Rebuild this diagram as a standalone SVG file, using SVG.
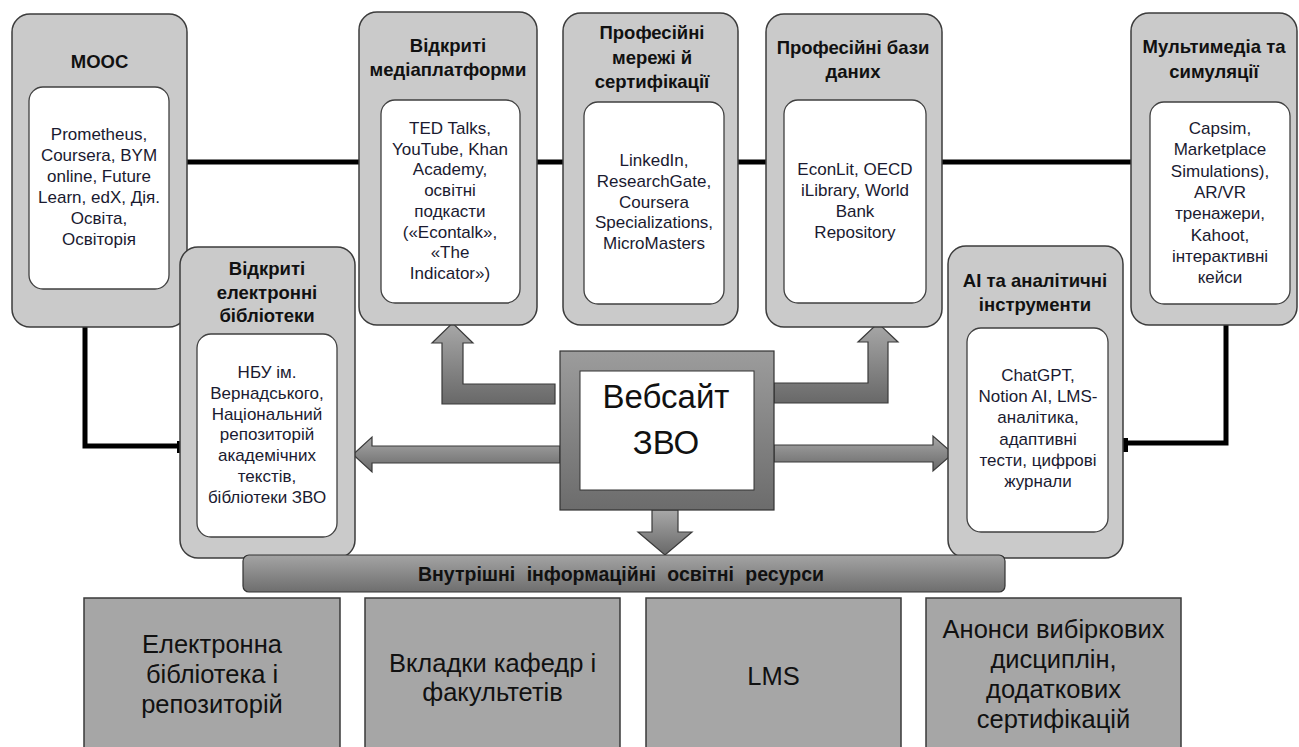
<svg xmlns="http://www.w3.org/2000/svg" width="1299" height="747" viewBox="0 0 1299 747">
<defs>
<linearGradient id="gArrow" x1="0" y1="0" x2="0" y2="1">
<stop offset="0" stop-color="#a8a8a8"/><stop offset="1" stop-color="#686868"/>
</linearGradient>
<linearGradient id="gBox" x1="0" y1="0" x2="0" y2="1">
<stop offset="0" stop-color="#9c9c9c"/><stop offset="1" stop-color="#6c6c6c"/>
</linearGradient>
<linearGradient id="gBar" x1="0" y1="0" x2="0" y2="1">
<stop offset="0" stop-color="#a4a4a4"/><stop offset="1" stop-color="#6e6e6e"/>
</linearGradient>
</defs>
<style>
.outer{fill:#cacaca;stroke:#3c3c3c;stroke-width:1.5}
.inner{fill:#ffffff;stroke:#404040;stroke-width:1.3}
.title{font-family:"Liberation Sans",Arial,sans-serif;font-weight:bold;font-size:18.5px;fill:#111;text-anchor:middle}
.body{font-family:"Liberation Sans",Arial,sans-serif;font-size:17px;fill:#1a1a30;text-anchor:middle}
.conn{fill:none;stroke:#000;stroke-width:5}
.mark{fill:#000}
.arrow{fill:url(#gArrow);stroke:#3a3a3a;stroke-width:1.2}
.bottom{fill:#a6a6a6;stroke:#3a3a3a;stroke-width:1.5}
.btext{font-family:"Liberation Sans",Arial,sans-serif;font-size:25.5px;fill:#111;text-anchor:middle}
</style>
<rect width="1299" height="747" fill="#ffffff"/>

<g id="connectors">
<line class="conn" x1="187" y1="162" x2="1131" y2="162"/>
<polyline class="conn" points="85,327 85,446 180,446"/>
<rect class="mark" x="177" y="441" width="6" height="12"/>
<polyline class="conn" points="1226,325 1226,443 1123,443"/>
<rect class="mark" x="1122" y="438" width="6" height="14"/>
<path class="arrow" d="M555,384 H463 V343 H473 L452.5,323 L432,343 H442 V404 H555 Z"/>
<path class="arrow" d="M774,383 H868 V342 H858 L878,323 L898,342 H888 V403 H774 Z"/>
<path class="arrow" d="M560,446 H372 V437 L353,454.5 L372,472 V463 H560 Z"/>
<path class="arrow" d="M774,445 H933 V436 L953,453.5 L933,471 V462 H774 Z"/>
<path class="arrow" d="M652,510 H678 V532 H692 L665,555 L638,532 H652 Z"/>
</g>

<g id="mooc">
<rect class="outer" x="12" y="14" width="175" height="313" rx="18"/>
<rect class="inner" x="29" y="87" width="140" height="202" rx="14"/>
<text class="title" x="99.5" y="68">MOOC</text>
<text class="body" x="99" y="140">Prometheus,</text>
<text class="body" x="99" y="161">Coursera, BYM</text>
<text class="body" x="99" y="182">online, Future</text>
<text class="body" x="99" y="203">Learn, edX, Дія.</text>
<text class="body" x="99" y="224">Освіта,</text>
<text class="body" x="99" y="245">Освіторія</text>
</g>

<g id="media">
<rect class="outer" x="359" y="12" width="178" height="313" rx="18"/>
<rect class="inner" x="381" y="100" width="139" height="203" rx="14"/>
<text class="title" x="448" y="52">Відкриті</text>
<text class="title" x="448" y="76">медіаплатформи</text>
<text class="body" x="450" y="134">TED Talks,</text>
<text class="body" x="450" y="154.7">YouTube, Khan</text>
<text class="body" x="450" y="175.4">Academy,</text>
<text class="body" x="450" y="196.1">освітні</text>
<text class="body" x="450" y="216.8">подкасти</text>
<text class="body" x="450" y="237.5">(«Econtalk»,</text>
<text class="body" x="450" y="258.2">«The</text>
<text class="body" x="450" y="279">Indicator»)</text>
</g>

<g id="networks">
<rect class="outer" x="563" y="13" width="175" height="312" rx="18"/>
<rect class="inner" x="584" y="102" width="140" height="202" rx="14"/>
<text class="title" x="652" y="39">Професійні</text>
<text class="title" x="652" y="64">мережі й</text>
<text class="title" x="652" y="88">сертифікації</text>
<text class="body" x="654" y="166">LinkedIn,</text>
<text class="body" x="654" y="186.8">ResearchGate,</text>
<text class="body" x="654" y="207.6">Coursera</text>
<text class="body" x="654" y="228.4">Specializations,</text>
<text class="body" x="654" y="249.2">MicroMasters</text>
</g>

<g id="databases">
<rect class="outer" x="766" y="14" width="176" height="313" rx="18"/>
<rect class="inner" x="784" y="100" width="142" height="203" rx="14"/>
<text class="title" x="853" y="54">Професійні бази</text>
<text class="title" x="853" y="78">даних</text>
<text class="body" x="855" y="175">EconLit, OECD</text>
<text class="body" x="855" y="196">iLibrary, World</text>
<text class="body" x="855" y="217">Bank</text>
<text class="body" x="855" y="238">Repository</text>
</g>

<g id="multimedia">
<rect class="outer" x="1131" y="13" width="166" height="312" rx="18"/>
<rect class="inner" x="1150" y="102" width="140" height="202" rx="14"/>
<text class="title" x="1214" y="53">Мультимедіа та</text>
<text class="title" x="1214" y="78">симуляції</text>
<text class="body" x="1220" y="134">Capsim,</text>
<text class="body" x="1220" y="155.3">Marketplace</text>
<text class="body" x="1220" y="176.6">Simulations),</text>
<text class="body" x="1220" y="197.9">AR/VR</text>
<text class="body" x="1220" y="219.2">тренажери,</text>
<text class="body" x="1220" y="240.5">Kahoot,</text>
<text class="body" x="1220" y="261.8">інтерактивні</text>
<text class="body" x="1220" y="283">кейси</text>
</g>

<g id="libraries">
<rect class="outer" x="180" y="247" width="175" height="311" rx="18"/>
<rect class="inner" x="197" y="334" width="140" height="203" rx="14"/>
<text class="title" x="267" y="275">Відкриті</text>
<text class="title" x="267" y="299">електронні</text>
<text class="title" x="267" y="322">бібліотеки</text>
<text class="body" x="267" y="378">НБУ ім.</text>
<text class="body" x="267" y="398.8">Вернадського,</text>
<text class="body" x="267" y="419.6">Національний</text>
<text class="body" x="267" y="440.4">репозиторій</text>
<text class="body" x="267" y="461.2">академічних</text>
<text class="body" x="267" y="482">текстів,</text>
<text class="body" x="267" y="503">бібліотеки ЗВО</text>
</g>

<g id="ai">
<rect class="outer" x="948" y="246" width="175" height="312" rx="18"/>
<rect class="inner" x="967" y="328" width="141" height="204" rx="14"/>
<text class="title" x="1035" y="287">AI та аналітичні</text>
<text class="title" x="1035" y="311">інструменти</text>
<text class="body" x="1038" y="381">ChatGPT,</text>
<text class="body" x="1038" y="402.2">Notion AI, LMS-</text>
<text class="body" x="1038" y="423.4">аналітика,</text>
<text class="body" x="1038" y="444.6">адаптивні</text>
<text class="body" x="1038" y="465.8">тести, цифрові</text>
<text class="body" x="1038" y="487">журнали</text>
</g>

<g id="website">
<rect x="560" y="351" width="214" height="159" fill="url(#gBox)" stroke="#333" stroke-width="1.2"/>
<rect x="580" y="371" width="174" height="119" fill="#ffffff" stroke="#333" stroke-width="1"/>
<text x="666" y="408" font-family="Liberation Sans, Arial, sans-serif" font-size="33" fill="#111" text-anchor="middle">Вебсайт</text>
<text x="666" y="454" font-family="Liberation Sans, Arial, sans-serif" font-size="33" fill="#111" text-anchor="middle">ЗВО</text>
</g>

<g id="internal-bar">
<rect x="243" y="555" width="762" height="37" rx="6" fill="url(#gBar)" stroke="#333" stroke-width="1.2"/>
<text x="621" y="581" font-family="Liberation Sans, Arial, sans-serif" font-size="19.5" font-weight="bold" fill="#111" text-anchor="middle" word-spacing="6">Внутрішні інформаційні освітні ресурси</text>
</g>

<g id="elibrary">
<rect class="bottom" x="84" y="598" width="256" height="170"/>
<text class="btext" x="212" y="653">Електронна</text>
<text class="btext" x="212" y="683">бібліотека і</text>
<text class="btext" x="212" y="713">репозиторій</text>
</g>
<g id="tabs">
<rect class="bottom" x="365" y="598" width="255" height="170"/>
<text class="btext" x="492.5" y="672">Вкладки кафедр і</text>
<text class="btext" x="492.5" y="701">факультетів</text>
</g>
<g id="lms">
<rect class="bottom" x="646" y="598" width="255" height="170"/>
<text class="btext" x="773.5" y="685">LMS</text>
</g>
<g id="announcements">
<rect class="bottom" x="926" y="598" width="255" height="170"/>
<text class="btext" x="1053.5" y="638">Анонси вибіркових</text>
<text class="btext" x="1053.5" y="668">дисциплін,</text>
<text class="btext" x="1053.5" y="698">додаткових</text>
<text class="btext" x="1053.5" y="728">сертифікацій</text>
</g>
</svg>
